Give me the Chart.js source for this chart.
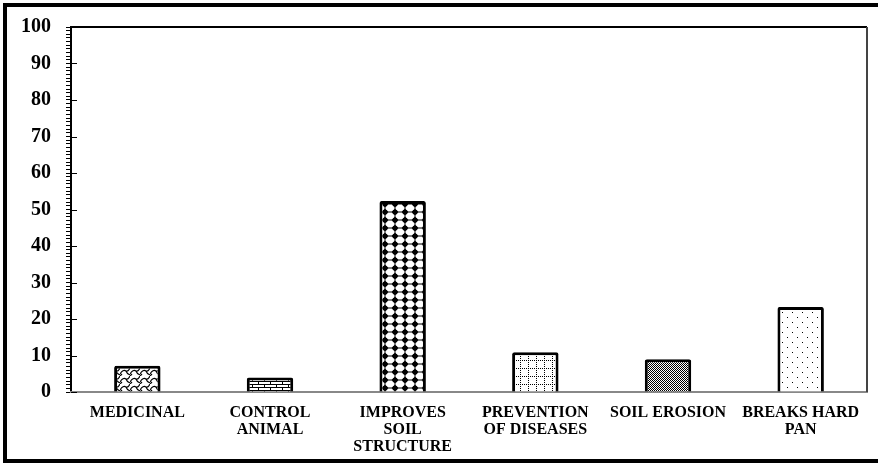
<!DOCTYPE html>
<html>
<head>
<meta charset="utf-8">
<script src="https://cdn.jsdelivr.net/npm/chart.js@4/dist/chart.umd.min.js"></script>
<style>
html,body{margin:0;padding:0;background:#fff;}
#wrap{position:relative;width:878px;height:464px;}
canvas{display:block;}
</style>
</head>
<body>
<div id="wrap"><canvas id="c" width="878" height="464"></canvas></div>
<script>
const categories = [
  ["MEDICINAL"],
  ["CONTROL", "ANIMAL"],
  ["IMPROVES", "SOIL", "STRUCTURE"],
  ["PREVENTION", "OF DISEASES"],
  ["SOIL EROSION"],
  ["BREAKS HARD", "PAN"]
];
const values = [7.2, 4, 52.3, 10.9, 9, 23.3];
const yTicksMajor = [0, 10, 20, 30, 40, 50, 60, 70, 80, 90, 100];

function mk(w, h, draw) {
  const c = document.createElement('canvas');
  c.width = w; c.height = h;
  const g = c.getContext('2d');
  g.fillStyle = '#fff'; g.fillRect(0, 0, w, h);
  g.fillStyle = '#000'; g.strokeStyle = '#000';
  draw(g);
  return g.createPattern(c, 'repeat');
}
const patterns = [
  // shingle / wavy
  mk(10, 8, g => {
    g.lineWidth = 1.2;
    g.beginPath();
    g.moveTo(0, 6); g.quadraticCurveTo(3, 1, 6, 3); g.quadraticCurveTo(8, 4, 10, 0);
    g.moveTo(0, 8); g.lineTo(2, 6);
    g.moveTo(6, 3); g.quadraticCurveTo(7, 6, 10, 7);
    g.stroke();
  }),
  // brick
  mk(12, 6, g => {
    g.fillRect(0, 0, 12, 1);
    g.fillRect(0, 3, 12, 1);
    g.fillRect(0, 0, 1, 3);
    g.fillRect(6, 3, 1, 3);
  }),
  // large dots
  mk(10, 8, g => {
    g.beginPath();
    g.moveTo(5, 0.8); g.lineTo(8.3, 4); g.lineTo(5, 7.2); g.lineTo(1.7, 4); g.closePath();
    g.fill();
    g.beginPath(); g.arc(5, 4, 2.6, 0, Math.PI * 2); g.fill();
    g.fillRect(4.5, 0, 1, 8);
    g.fillRect(0, 3.5, 10, 1);
  }),
  // dotted grid
  mk(8, 8, g => {
    for (let i = 0; i < 8; i += 2) { g.fillRect(i, 0, 1, 1); g.fillRect(0, i, 1, 1); }
  }),
  // fine checker
  mk(2, 2, g => {
    g.fillRect(0, 0, 1, 1); g.fillRect(1, 1, 1, 1);
  }),
  // sparse dots
  mk(10, 10, g => {
    g.fillRect(2, 2, 1, 1); g.fillRect(7, 7, 1, 1);
  })
];

const framePlugin = {
  id: 'frame',
  beforeDraw(chart) {
    const c = chart.ctx;
    c.save();
    c.fillStyle = '#fff';
    c.fillRect(0, 0, chart.width, chart.height);
    c.strokeStyle = '#000';
    c.lineWidth = 4;
    c.strokeRect(5, 5, 885, 456);
    c.restore();
  },
  afterDraw(chart) {
    const a = chart.chartArea;
    const y = chart.scales.y;
    const c = chart.ctx;
    c.save();
    c.strokeStyle = '#000';
    c.lineWidth = 2;
    c.beginPath(); c.moveTo(a.left, a.top); c.lineTo(a.right, a.top); c.stroke();
    c.strokeStyle = '#444';
    c.beginPath(); c.moveTo(a.right, a.top); c.lineTo(a.right, a.bottom); c.stroke();
    c.strokeStyle = '#000';
    c.lineWidth = 1;
    yTicksMajor.forEach(v => {
      const py = Math.round(y.getPixelForValue(v)) + 0.5;
      c.beginPath(); c.moveTo(a.left, py); c.lineTo(a.left + 6, py); c.stroke();
    });
    c.restore();
  }
};

new Chart(document.getElementById('c'), {
  type: 'bar',
  data: {
    labels: categories,
    datasets: [{
      data: values,
      backgroundColor: patterns,
      borderColor: '#000',
      borderWidth: 3,
      borderRadius: 2,
      categoryPercentage: 1,
      barPercentage: 0.35
    }]
  },
  options: {
    responsive: false,
    animation: false,
    devicePixelRatio: 1,
    layout: { padding: { top: 25, right: 11, left: 0, bottom: 0 } },
    plugins: { legend: { display: false }, tooltip: { enabled: false } },
    scales: {
      y: {
        min: 0, max: 100,
        afterFit(s) { s.width = 71; },
        ticks: {
          stepSize: 1,
          autoSkip: false,
          padding: 15,
          color: '#000',
          font: { family: 'Liberation Serif', weight: 'bold', size: 20 },
          callback: v => (v % 10 === 0 ? String(v) : '')
        },
        grid: { drawOnChartArea: false, tickLength: 5, color: '#000', lineWidth: 1 },
        border: { color: '#000', width: 2 }
      },
      x: {
        afterFit(s) { s.height = 72; },
        ticks: {
          color: '#000',
          padding: 4,
          maxRotation: 0,
          autoSkip: false,
          font: { family: 'Liberation Serif', weight: 'bold', size: 16, lineHeight: 1.08 }
        },
        grid: { display: false },
        border: { color: '#888', width: 2 }
      }
    }
  },
  plugins: [framePlugin]
});
</script>
</body>
</html>
